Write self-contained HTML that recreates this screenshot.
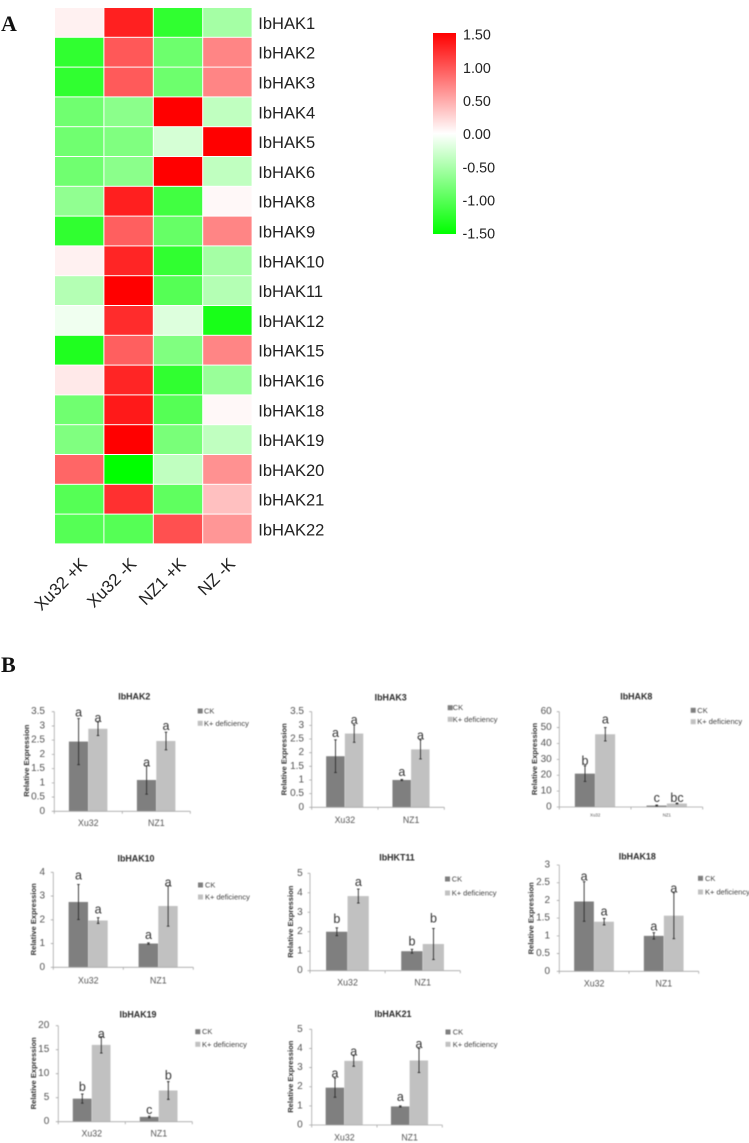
<!DOCTYPE html>
<html lang="en">
<head>
<meta charset="utf-8">
<title>IbHAK expression heatmap and bar charts</title>
<style>
html,body{margin:0;padding:0;background:#fff;width:749px;height:1143px;overflow:hidden}
svg{display:block}
text{font-family:"Liberation Sans",sans-serif}
.panel{font-family:"Liberation Serif",serif !important;font-weight:bold;font-size:22px;fill:#111}
</style>
</head>
<body>
<svg id="figure" xmlns="http://www.w3.org/2000/svg" width="749" height="1143" viewBox="0 0 749 1143">
  <defs>
    <linearGradient id="scaleGradient" x1="0" y1="0" x2="0" y2="1">
      <stop offset="0" stop-color="#ff0000"/>
      <stop offset="0.5" stop-color="#ffffff"/>
      <stop offset="1" stop-color="#00ff00"/>
    </linearGradient>
  </defs>
  <text class="panel" x="1" y="31">A</text>
  <text class="panel" x="1" y="672">B</text>
  <g id="heatmap"></g>
  <g id="colorScale">
    <rect x="433" y="33" width="23" height="201" fill="url(#scaleGradient)"/>
  </g>
  <g id="barCharts" style="filter:blur(0.4px)"></g>
</svg>
<script>
/* ---------- heatmap data ---------- */
const genes = ['IbHAK1','IbHAK2','IbHAK3','IbHAK4','IbHAK5','IbHAK6','IbHAK8','IbHAK9','IbHAK10','IbHAK11','IbHAK12','IbHAK15','IbHAK16','IbHAK18','IbHAK19','IbHAK20','IbHAK21','IbHAK22'];
const samples = ['Xu32 +K','Xu32 -K','NZ1 +K','NZ -K'];
const expression = [
  [0.08,1.31,-1.22,-0.53],
  [-1.22,0.98,-0.86,0.72],
  [-1.22,0.97,-0.86,0.72],
  [-0.84,-0.68,1.5,-0.37],
  [-0.84,-0.75,-0.25,1.5],
  [-0.84,-0.68,1.5,-0.37],
  [-0.65,1.32,-1.12,0.04],
  [-1.22,0.94,-0.9,0.72],
  [0.08,1.28,-1.22,-0.53],
  [-0.44,1.5,-1.0,-0.44],
  [-0.09,1.24,-0.2,-1.36],
  [-1.32,0.94,-0.75,0.72],
  [0.13,1.28,-1.22,-0.6],
  [-0.84,1.35,-1.0,0.04],
  [-0.75,1.5,-0.79,-0.37],
  [0.9,-1.5,-0.37,0.65],
  [-1.0,1.22,-0.94,0.37],
  [-1.0,-1.0,1.03,0.62]
];
const scaleTicks = ['1.50','1.00','0.50','0.00','-0.50','-1.00','-1.50'];

/* ---------- bar chart data ---------- */
const chartTitles = ['IbHAK2','IbHAK3','IbHAK8','IbHAK10','IbHKT11','IbHAK18','IbHAK19','IbHAK21'];
const categories = ['Xu32','NZ1'];
const seriesNames = ['CK','K+ deficiency'];
const yTickLabels = [
  ['0','0.5','1','1.5','2','2.5','3','3.5'],
  ['0','0.5','1','1.5','2','2.5','3','3.5'],
  ['0','10','20','30','40','50','60'],
  ['0','1','2','3','4'],
  ['0','1','2','3','4','5'],
  ['0','0.5','1','1.5','2','2.5','3'],
  ['0','5','10','15','20'],
  ['0','1','2','3','4','5']
];
const ckValues = [[2.45,1.1],[1.87,1.0],[21,0.9],[2.75,1.0],[2.0,1.0],[1.97,1.0],[4.8,1.0],[1.95,0.97]];
const deficiencyValues = [[2.9,2.47],[2.7,2.12],[45.8,2.2],[1.97,2.58],[3.83,1.37],[1.4,1.57],[16,6.5],[3.35,3.37]];
const ckErrors = [[0.81,0.5],[0.6,0.02],[4.9,0.3],[0.74,0.03],[0.2,0.1],[0.56,0.09],[0.95,0.15],[0.5,0.03]];
const deficiencyErrors = [[0.24,0.31],[0.32,0.35],[4.2,0.3],[0.12,0.85],[0.36,0.8],[0.09,0.65],[1.7,1.85],[0.28,0.63]];
const ckLetters = [['a','a'],['a','a'],['b','c'],['a','a'],['b','b'],['a','a'],['b','c'],['a','a']];
const deficiencyLetters = [['a','a'],['a','a'],['a','bc'],['a','a'],['a','b'],['a','a'],['a','b'],['a','a']];

/* ---------- layout (not data) ---------- */
const chartFrames = [
  {x0:54.3,x1:190.3,top:711.7,base:811.3,bar:19.4,titleX:134.3,titleY:696.7,axisTitleX:26.7,axisTitleY:760.7,tickX:45,catY:823,catFont:8.8,legX:197.7,legTextX:204,legY1:711,legY2:723.3},
  {x0:311.7,x1:444.3,top:711.7,base:807.3,bar:18.7,titleX:390.7,titleY:697.3,axisTitleX:284,axisTitleY:759.3,tickX:304,catY:820,catFont:8.8,legX:447.7,legTextX:452.7,legY1:707.7,legY2:719.3},
  {x0:559.3,x1:702.7,top:711.7,base:807,bar:20.3,titleX:636.3,titleY:696.7,axisTitleX:534.3,axisTitleY:759,tickX:551.7,catY:815,catFont:4.4,legX:690.7,legTextX:697.3,legY1:710.3,legY2:721.7},
  {x0:53.3,x1:193.3,top:872.3,base:967.3,bar:19.7,titleX:136,titleY:858.3,axisTitleX:33.3,axisTitleY:919.3,tickX:45,catY:980.3,catFont:8.8,legX:198,legTextX:205,legY1:885,legY2:897},
  {x0:310,x1:460.3,top:873.3,base:970.7,bar:21.5,titleX:397,titleY:857.7,axisTitleX:290.3,axisTitleY:921.7,tickX:302.7,catY:982.7,catFont:8.8,legX:445,legTextX:451.7,legY1:879,legY2:893},
  {x0:559.3,x1:698.7,top:865,base:971.3,bar:20,titleX:637.3,titleY:856.7,axisTitleX:531,axisTitleY:918.3,tickX:550,catY:983.3,catFont:8.8,legX:698,legTextX:705,legY1:878.3,legY2:892},
  {x0:58.3,x1:192.3,top:1025.7,base:1121.7,bar:19,titleX:138,titleY:1014.7,axisTitleX:33.3,axisTitleY:1073.3,tickX:49.3,catY:1133.3,catFont:8.8,legX:195.3,legTextX:202,legY1:1031.7,legY2:1044.3},
  {x0:311.7,x1:442.3,top:1029.3,base:1125,bar:18.7,titleX:393,titleY:1014,axisTitleX:290.7,axisTitleY:1076.7,tickX:302.7,catY:1137.3,catFont:8.8,legX:445.5,legTextX:452.7,legY1:1032,legY2:1044.3}
];
const ckLetterGap = [[6,3.3],[6.7,7.3],[5,7],[9,8],[9,7.7],[5.3,6.3],[7,6.3],[4.7,8.7]];
const deficiencyLetterGap = [[4,6.3],[5,4.3],[8,5],[8.3,3.3],[7,9.7],[7,4.3],[2.7,6],[4,4.3]];

const NS = 'http://www.w3.org/2000/svg';
function make(tag, attrs, parent, content) {
  const node = document.createElementNS(NS, tag);
  for (const key in attrs) node.setAttribute(key, attrs[key]);
  if (content !== undefined) node.textContent = content;
  parent.appendChild(node);
  return node;
}

/* ---------- heatmap ---------- */
const heatmapBox = {left:55, right:252.6, top:8, bottom:544.4};
function colX(i) { return heatmapBox.left + i * (heatmapBox.right - heatmapBox.left) / samples.length; }
function rowY(i) { return heatmapBox.top + i * (heatmapBox.bottom - heatmapBox.top) / genes.length; }
function heatColor(v) {
  const t = Math.min(Math.abs(v) / 1.5, 1);
  const c = Math.round(255 * (1 - t));
  return v >= 0 ? 'rgb(255,' + c + ',' + c + ')' : 'rgb(' + c + ',255,' + c + ')';
}
const heatmapGroup = document.getElementById('heatmap');
expression.forEach(function (row, r) {
  row.forEach(function (v, c) {
    const cell = make('rect', {x: colX(c), y: rowY(r), width: colX(1) - colX(0) - 1, height: rowY(1) - rowY(0) - 1, fill: heatColor(v)}, heatmapGroup);
    
    
  });
});
genes.forEach(function (g, r) {
  const label = make('text', {x: 258.3, y: rowY(r) + 15.9, 'font-size': 16.5, fill: '#222', 'dominant-baseline': 'central'}, heatmapGroup, g);
  
  
});
samples.forEach(function (s, c) {
  const px = colX(c) + 33;
  const label = make('text', {x: px, y: 565, 'font-size': 17, fill: '#222', 'text-anchor': 'end', transform: 'rotate(-45 ' + px + ' 565)'}, heatmapGroup, s);
  
  
});

/* ---------- colour scale ---------- */
const colorScaleGroup = document.getElementById('colorScale');
scaleTicks.forEach(function (t) {
  const y = 135.2 - Number(t) / 1.5 * 99.5;
  const label = make('text', {x: t.charAt(0) === '-' ? 462.5 : 463, y: y, 'font-size': 14.3, fill: '#222', 'dominant-baseline': 'central'}, colorScaleGroup, t);
  
  
});

/* ---------- bar charts ---------- */
const chartsGroup = document.getElementById('barCharts');
const seriesColors = ['#7f7f7f', '#c1c1c1'];

chartTitles.forEach(function (title, ci) {
  const f = chartFrames[ci];
  const ticks = yTickLabels[ci];
  const yMax = Number(ticks[ticks.length - 1]);
  const yScale = function (v) { return f.base - (v / yMax) * (f.base - f.top); };
  const catWidth = (f.x1 - f.x0) / categories.length;
  const catCenter = function (i) { return f.x0 + catWidth * (i + 0.5); };
  const slug = title.toLowerCase();

  const g = make('g', {}, chartsGroup);
  
  

  const titleNode = make('text', {x: f.titleX, y: f.titleY, 'font-size': 8.9, 'font-weight': 'bold', fill: '#2a2a2a', 'text-anchor': 'middle', 'dominant-baseline': 'central'}, g, title);
  
  

  const yTitle = make('text', {x: f.axisTitleX, y: f.axisTitleY, 'font-size': 7.6, 'font-weight': 'bold', fill: '#333', 'text-anchor': 'middle', 'dominant-baseline': 'central', transform: 'rotate(-90 ' + f.axisTitleX + ' ' + f.axisTitleY + ')'}, g, 'Relative Expression');
  
  

  /* series bars, error bars and letters */
  [[ckValues, ckErrors, ckLetters, ckLetterGap], [deficiencyValues, deficiencyErrors, deficiencyLetters, deficiencyLetterGap]].forEach(function (series, si) {
    categories.forEach(function (cat, i) {
      const v = series[0][ci][i];
      const err = series[1][ci][i];
      const bx = catCenter(i) - f.bar + si * f.bar;
      const bar = make('rect', {x: bx, y: yScale(v), width: f.bar - 0.3, height: f.base - yScale(v), fill: seriesColors[si]}, g);
      
      

      const cx = bx + f.bar / 2;
      const hi = yScale(v + err);
      const lo = yScale(v - err);
      const whisker = make('path', {d: 'M' + (cx - 1.3) + ' ' + hi + 'H' + (cx + 1.3) + 'M' + cx + ' ' + hi + 'V' + lo + 'M' + (cx - 1.3) + ' ' + lo + 'H' + (cx + 1.3), stroke: '#2e2e2e', 'stroke-width': 0.9, fill: 'none'}, g);
      
      

      const letter = make('text', {x: cx, y: hi - series[3][ci][i], 'font-size': 12.5, fill: '#333', 'text-anchor': 'middle', 'dominant-baseline': 'central'}, g, series[2][ci][i]);
      
      
    });
  });

  /* axes */
  const axisPath = ['M' + f.x0 + ' ' + f.top + 'V' + f.base + 'H' + f.x1];
  ticks.forEach(function (t) { axisPath.push('M' + (f.x0 - 2.5) + ' ' + yScale(Number(t)) + 'H' + f.x0); });
  for (let i = 0; i <= categories.length; i++) axisPath.push('M' + (f.x0 + catWidth * i) + ' ' + f.base + 'v2.5');
  const axes = make('path', {d: axisPath.join(''), stroke: '#a8a8a8', 'stroke-width': 0.8, fill: 'none'}, g);
  
  

  ticks.forEach(function (t) {
    const tickLabel = make('text', {x: f.tickX, y: yScale(Number(t)), 'font-size': 10, fill: '#555', 'text-anchor': 'end', 'dominant-baseline': 'central'}, g, t);
    
    
  });
  categories.forEach(function (cat, i) {
    const catLabel = make('text', {x: catCenter(i), y: f.catY, 'font-size': f.catFont, fill: '#555', 'text-anchor': 'middle', 'dominant-baseline': 'central'}, g, cat);
    
    
  });

  /* legend */
  seriesNames.forEach(function (name, si) {
    const ly = si === 0 ? f.legY1 : f.legY2;
    const swatch = make('rect', {x: f.legX, y: ly - 2.5, width: 5, height: 5, fill: seriesColors[si]}, g);
    
    
    const legendText = make('text', {x: f.legTextX, y: ly, 'font-size': 7.5, fill: '#444', 'dominant-baseline': 'central'}, g, name);
    
    
  });
});
</script>
</body>
</html>
